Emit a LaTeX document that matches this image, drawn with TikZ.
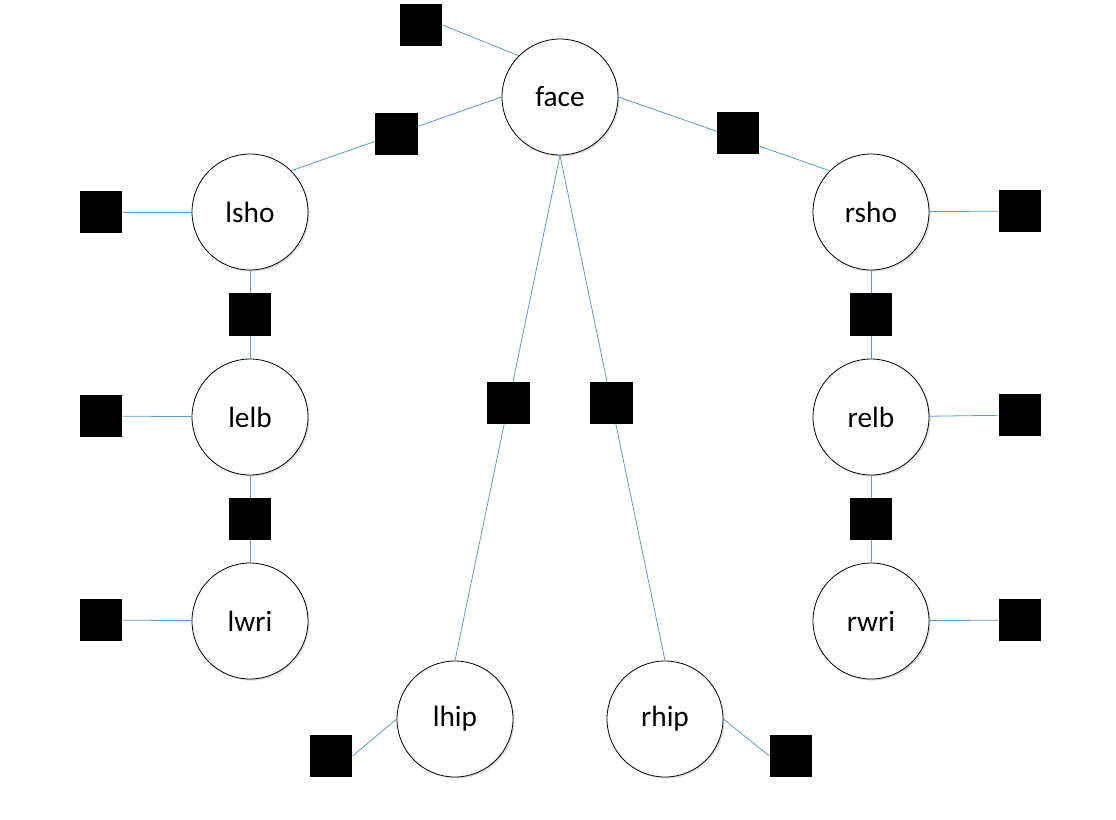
\documentclass[tikz,border=0pt]{standalone}
\usepackage{fontspec}
\setmainfont{Carlito}
\usetikzlibrary{shadows}

\definecolor{linkblue}{RGB}{91,155,213}

\begin{document}
\begin{tikzpicture}[x=0.75pt,y=-0.75pt,
joint/.style={circle, draw=black, line width=0.6pt, fill=white, minimum size=87pt, inner sep=0pt,
  font=\fontsize{22}{26}\selectfont,
  drop shadow={shadow xshift=1.2pt, shadow yshift=-1.2pt, opacity=0.25}},
sq/.style={fill=black, minimum size=32pt, inner sep=0pt},
link/.style={draw=linkblue, line width=0.6pt},
]
\useasboundingbox (0,0) rectangle (1116,819);

% суставы
\node[joint] (face) at (560,97) {face};
\node[joint] (lsho) at (250,212) {lsho};
\node[joint] (lelb) at (250,417) {lelb};
\node[joint] (lwri) at (250,621) {lwri};
\node[joint] (rsho) at (871,212) {rsho};
\node[joint] (relb) at (871,417) {relb};
\node[joint] (rwri) at (871,621) {rwri};
\node[joint] (lhip) at (455,719) {lhip};
\node[joint] (rhip) at (665,719) {rhip};

% квадраты по краям
\node[sq] (faceq) at (421,25) {};
\node[sq] (lshoq) at (101,212) {};
\node[sq] (lelbq) at (101,416) {};
\node[sq] (lwriq) at (101,620) {};
\node[sq] (rshoq) at (1020,211) {};
\node[sq] (relbq) at (1020,415) {};
\node[sq] (rwriq) at (1020,620) {};
\node[sq] (lhipq) at (331,756) {};
\node[sq] (rhipq) at (791,756) {};

\draw[link] (faceq.east) -- (face.north west);
\draw[link] (lshoq) -- (lsho);
\draw[link] (lelbq) -- (lelb);
\draw[link] (lwriq) -- (lwri);
\draw[link] (rshoq) -- (rsho);
\draw[link] (relbq) -- (relb);
\draw[link] (rwriq) -- (rwri);
\draw[link] (lhipq.east) -- (lhip.west);
\draw[link] (rhipq.west) -- (rhip.east);

% связи между суставами
\draw[link] (face.west) -- (lsho.north east) node[sq, pos=0.5] (flq) {};
\draw[link] (face.east) -- (rsho.north west);
\node[sq] (frq) at (738,133) {};
\draw[link] (face.south) -- (lhip.north) node[sq, pos=0.49] (flhq) {};
\draw[link] (face.south) -- (rhip.north) node[sq, pos=0.49] (frhq) {};
\draw[link] (lsho) -- (lelb) node[sq, midway] (lseq) {};
\draw[link] (lelb) -- (lwri) node[sq, midway] (lewq) {};
\draw[link] (rsho) -- (relb) node[sq, midway] (rseq) {};
\draw[link] (relb) -- (rwri) node[sq, midway] (rewq) {};
\end{tikzpicture}
\end{document}
